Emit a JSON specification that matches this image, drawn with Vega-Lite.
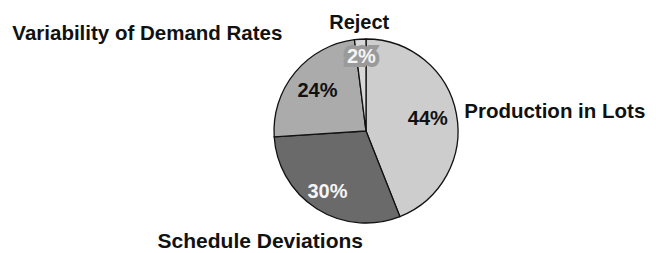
{
  "$schema": "https://vega.github.io/schema/vega-lite/v6.json",
  "width": 580,
  "height": 244,
  "padding": {"left": 76, "top": 9, "right": 0, "bottom": 0},
  "autosize": {"type": "none"},
  "background": "white",
  "view": {"stroke": null},
  "data": {"values": [
    {"cause": "Production in Lots", "share": 44, "label": "44%", "order": 1},
    {"cause": "Schedule Deviations", "share": 30, "label": "30%", "order": 2},
    {"cause": "Variability of Demand Rates", "share": 24, "label": "24%", "order": 3},
    {"cause": "Reject", "share": 2, "label": "2%", "order": 4}
  ]},
  "encoding": {
    "theta": {"field": "share", "type": "quantitative", "stack": true},
    "order": {"field": "order", "type": "quantitative"}
  },
  "layer": [
    {
      "mark": {"type": "arc", "outerRadius": 92, "stroke": "#111111", "strokeWidth": 1.3},
      "encoding": {
        "color": {"field": "cause", "type": "nominal", "legend": null,
          "scale": {"domain": ["Production in Lots", "Schedule Deviations", "Variability of Demand Rates", "Reject"],
                    "range": ["#cdcdcd", "#6a6a6a", "#ababab", "#d8d8d8"]}}
      }
    },
    {"mark": {"type": "text", "radius": 100, "align": "left", "baseline": "middle", "font": "Liberation Sans", "fontWeight": "bold", "fontSize": 20.5, "fill": "#111111"},
     "encoding": {"text": {"condition": {"test": "datum.cause == 'Production in Lots'", "field": "cause"}, "value": ""}}},
    {"mark": {"type": "text", "radius": 132, "dx": -35, "align": "center", "baseline": "middle", "font": "Liberation Sans", "fontWeight": "bold", "fontSize": 21, "fill": "#111111"},
     "encoding": {"text": {"condition": {"test": "datum.cause == 'Schedule Deviations'", "field": "cause"}, "value": ""}}},
    {"mark": {"type": "text", "radius": 128, "dx": 15, "dy": -15, "align": "right", "baseline": "middle", "font": "Liberation Sans", "fontWeight": "bold", "fontSize": 20.5, "fill": "#111111"},
     "encoding": {"text": {"condition": {"test": "datum.cause == 'Variability of Demand Rates'", "field": "cause"}, "value": ""}}},
    {"mark": {"type": "text", "radius": 108, "align": "center", "baseline": "middle", "font": "Liberation Sans", "fontWeight": "bold", "fontSize": 20, "fill": "#111111"},
     "encoding": {"text": {"condition": {"test": "datum.cause == 'Reject'", "field": "cause"}, "value": ""}}},
    {"mark": {"type": "text", "radius": 63, "align": "center", "baseline": "middle", "font": "Liberation Sans", "fontWeight": "bold", "fontSize": 20, "fill": "#111111"},
     "encoding": {"text": {"condition": {"test": "datum.cause == 'Production in Lots' || datum.cause == 'Variability of Demand Rates'", "field": "label"}, "value": ""}}},
    {"mark": {"type": "text", "radius": 72, "align": "center", "baseline": "middle", "font": "Liberation Sans", "fontWeight": "bold", "fontSize": 20, "fill": "#f4f4f4"},
     "encoding": {"text": {"condition": {"test": "datum.cause == 'Schedule Deviations'", "field": "label"}, "value": ""}}},
    {"mark": {"type": "text", "radius": 74, "align": "center", "baseline": "middle", "font": "Liberation Sans", "fontWeight": "bold", "fontSize": 20, "fill": "#9a9a9a", "stroke": "#9a9a9a", "strokeWidth": 8, "strokeJoin": "miter"},
     "encoding": {"text": {"condition": {"test": "datum.cause == 'Reject'", "field": "label"}, "value": ""}}},
    {"mark": {"type": "text", "radius": 74, "align": "center", "baseline": "middle", "font": "Liberation Sans", "fontWeight": "bold", "fontSize": 20, "fill": "#f4f4f4"},
     "encoding": {"text": {"condition": {"test": "datum.cause == 'Reject'", "field": "label"}, "value": ""}}}
  ]
}
